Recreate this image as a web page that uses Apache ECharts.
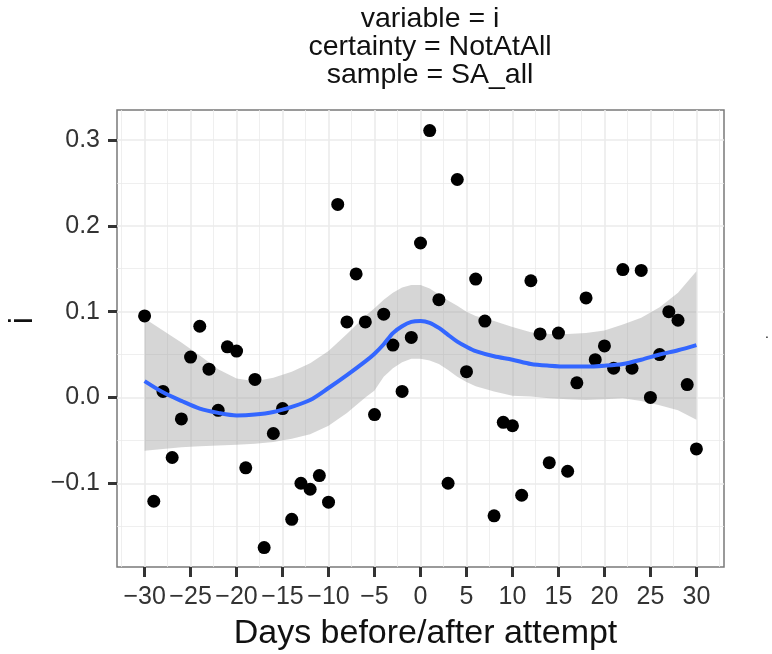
<!DOCTYPE html>
<html>
<head>
<meta charset="utf-8">
<script src="https://cdn.jsdelivr.net/npm/echarts@6/dist/echarts.min.js"></script>
<style>
  html, body { margin: 0; padding: 0; background: #fff; }
  #chart { width: 772px; height: 654px; }
</style>
</head>
<body>
<div id="chart"></div>
<script>
// observed values, one per day
const days = [-30, -29, -28, -27, -26, -25, -24, -23, -22, -21, -20, -19, -18, -17, -16, -15,
  -14, -13, -12, -11, -10, -9, -8, -7, -6, -5, -4, -3, -2, -1, 0, 1, 2, 3, 4, 5, 6, 7, 8, 9,
  10, 11, 12, 13, 14, 15, 16, 17, 18, 19, 20, 21, 22, 23, 24, 25, 26, 27, 28, 29, 30]
const iValues = [0.095, -0.121, 0.007, -0.070, -0.025, 0.047, 0.083, 0.033, -0.015, 0.059,
  0.054, -0.082, 0.021, -0.175, -0.042, -0.013, -0.142, -0.100, -0.107, -0.091, -0.122,
  0.225, 0.088, 0.144, 0.088, -0.020, 0.097, 0.061, 0.007, 0.070, 0.180, 0.311, 0.114,
  -0.100, 0.254, 0.030, 0.138, 0.089, -0.138, -0.029, -0.033, -0.114, 0.136, 0.074, -0.076,
  0.075, -0.086, 0.017, 0.116, 0.044, 0.060, 0.034, 0.149, 0.034, 0.148, 0.000, 0.050,
  0.100, 0.090, 0.015, -0.060]

// loess fit + confidence band
const fitX = [-30, -28, -26, -24, -22, -20, -18, -16, -14, -12, -10, -8, -6, -5, -4, -3, -2, -1,
  0, 1, 2, 3, 4, 5, 6, 8, 10, 12, 14, 16, 18, 20, 22, 24, 26, 28, 30]
const fitY = [0.019, 0.006, -0.004, -0.013, -0.018, -0.021, -0.020, -0.017, -0.011, -0.003,
  0.011, 0.026, 0.042, 0.051, 0.062, 0.075, 0.083, 0.088, 0.089, 0.087, 0.081, 0.073, 0.065,
  0.059, 0.054, 0.048, 0.044, 0.039, 0.037, 0.036, 0.036, 0.037, 0.039, 0.044, 0.050, 0.055, 0.061]
const fitUpper = [0.092, 0.078, 0.064, 0.049, 0.033, 0.022, 0.019, 0.023, 0.030, 0.040, 0.054,
  0.074, 0.095, 0.104, 0.114, 0.122, 0.128, 0.131, 0.131, 0.127, 0.120, 0.113, 0.107, 0.100,
  0.095, 0.089, 0.082, 0.076, 0.074, 0.074, 0.075, 0.078, 0.085, 0.093, 0.105, 0.122, 0.147]
const fitLower = [-0.062, -0.060, -0.058, -0.057, -0.056, -0.055, -0.054, -0.052, -0.048,
  -0.043, -0.033, -0.018, 0.000, 0.008, 0.024, 0.034, 0.041, 0.045, 0.045, 0.043, 0.039,
  0.032, 0.024, 0.018, 0.013, 0.007, 0.002, 0.001, -0.001, -0.002, -0.003, -0.002, -0.001,
  -0.004, -0.009, -0.015, -0.026]

const xTicks = [-30, -25, -20, -15, -10, -5, 0, 5, 10, 15, 20, 25, 30]
const xMinor = [-32.5, -27.5, -22.5, -17.5, -12.5, -7.5, -2.5, 2.5, 7.5, 12.5, 17.5, 22.5, 27.5, 32.5]
const yTicks = [-0.1, 0.0, 0.1, 0.2, 0.3]
const yMinor = [-0.15, -0.05, 0.05, 0.15, 0.25]

const titleLines = ['variable = i', 'certainty = NotAtAll', 'sample = SA_all']

const FONT = '"Liberation Sans", Arial, sans-serif'
const minus = s => String(s).replace('-', '\u2212')

const chart = echarts.init(document.getElementById('chart'))

const gridLine = (w) => ({ show: true, lineStyle: { color: '#ebebeb', width: w } })

chart.setOption({
  animation: false,
  grid: {
    left: 117, right: 48, top: 110, bottom: 87,
    containLabel: false, outerBoundsMode: 'none',
    show: true, borderColor: '#7a7a7a', borderWidth: 1.5, backgroundColor: 'transparent'
  },
  xAxis: [{
    type: 'value', min: -33, max: 33, position: 'bottom',
    axisLine: { show: false, onZero: false },
    axisTick: { show: true, customValues: xTicks, length: 10, lineStyle: { color: '#333', width: 3 } },
    axisLabel: {
      customValues: xTicks, margin: 18, color: '#333', fontSize: 25, fontFamily: FONT,
      formatter: v => minus(v)
    },
    splitLine: gridLine(1.6),
    name: 'Days before/after attempt', nameLocation: 'middle', nameGap: 50,
    nameTextStyle: { color: '#111', fontSize: 34, fontFamily: FONT, padding: [0, 0, 0, 10] }
  }, {
    type: 'value', min: -33, max: 33, position: 'bottom',
    axisLine: { show: false, onZero: false },
    axisTick: { show: false, customValues: xMinor },
    axisLabel: { show: false },
    splitLine: gridLine(0.8)
  }],
  yAxis: [{
    type: 'value', min: -0.1976, max: 0.335, position: 'left',
    axisLine: { show: false, onZero: false },
    axisTick: { show: true, customValues: yTicks, length: 9, lineStyle: { color: '#333', width: 3 } },
    axisLabel: {
      customValues: yTicks, margin: 17, color: '#333', fontSize: 25, fontFamily: FONT,
      formatter: v => minus(v.toFixed(1))
    },
    splitLine: gridLine(1.6),
    name: 'i', nameLocation: 'middle', nameRotate: 90, nameGap: 76,
    nameTextStyle: { color: '#111', fontSize: 33, fontFamily: FONT, padding: [0, 0, 0, 36] }
  }, {
    type: 'value', min: -0.1976, max: 0.335, position: 'left',
    axisLine: { show: false, onZero: false },
    axisTick: { show: false, customValues: yMinor },
    axisLabel: { show: false },
    splitLine: gridLine(0.8)
  }],
  graphic: [
    ...titleLines.map((t, k) => ({
      type: 'text', x: 430, y: 19 + k * 28,
      style: { text: t, align: 'center', verticalAlign: 'middle', fill: '#111', font: '28.5px ' + FONT }
    })),
    {
      type: 'text', x: 767, y: 341,
      style: { text: '.', align: 'center', verticalAlign: 'bottom', fill: '#111', font: '14px ' + FONT }
    }
  ],
  series: [
    {
      type: 'scatter', xAxisIndex: 0, yAxisIndex: 0,
      data: days.map((d, i) => [d, iValues[i]]),
      symbol: 'circle', symbolSize: 13,
      itemStyle: { color: '#000', opacity: 1 }
    },
    {
      type: 'custom', xAxisIndex: 0, yAxisIndex: 0,
      data: [[0, 0]],
      renderItem: (params, api) => {
        const top = fitX.map((x, i) => api.coord([x, fitUpper[i]]))
        const bottom = fitX.map((x, i) => api.coord([x, fitLower[i]])).reverse()
        return {
          type: 'polygon',
          shape: { points: top.concat(bottom) },
          style: { fill: 'rgba(153,153,153,0.4)', stroke: null }
        }
      }
    },
    {
      type: 'line', xAxisIndex: 0, yAxisIndex: 0,
      data: fitX.map((x, i) => [x, fitY[i]]),
      smooth: 0.3, showSymbol: false,
      lineStyle: { color: '#3366FF', width: 4 }
    }
  ]
})
</script>
</body>
</html>
